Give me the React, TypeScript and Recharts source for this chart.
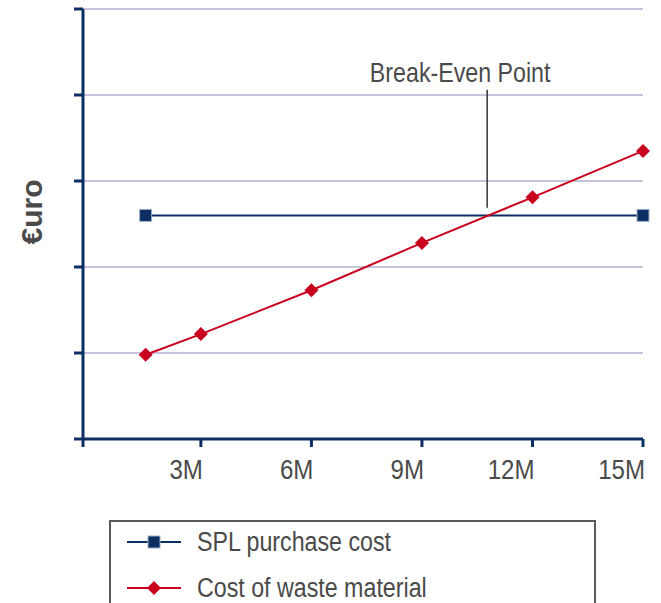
import React from 'react';
import { LineChart, Line, XAxis, YAxis, CartesianGrid, Legend, ReferenceLine } from 'recharts';

document.body.style.margin = '0';

const volumes = [1.5, 3, 6, 9, 12, 15];
const splCost = [2.6, null, null, null, null, 2.6];
const wasteCost = [0.98, 1.22, 1.73, 2.28, 2.81, 3.35];
const xTicks = [-0.2, 3, 6, 9, 12, 15];
const yTicks = [0, 1, 2, 3, 4, 5];
const breakEvenX = 10.77;

const data = volumes.map((v, i) => ({ volume: v, spl: splCost[i], waste: wasteCost[i] }));

const NAVY = '#0b2f63';
const RED = '#c8001e';
const TEXT = '#4a4a4a';
const FONT = '"Liberation Sans", Arial, sans-serif';
const SQUEEZE = 0.86;

const Diamond = (props: any) => {
  const { cx, cy } = props;
  if (cx == null || cy == null) return null;
  const r = 7;
  return <path d={`M${cx},${cy - r}L${cx + r},${cy}L${cx},${cy + r}L${cx - r},${cy}Z`} fill={RED} />;
};

const Square = (props: any) => {
  const { cx, cy } = props;
  if (cx == null || cy == null) return null;
  return <rect x={cx - 6} y={cy - 6} width={12} height={12} fill={NAVY} stroke="#9fb0c8" strokeWidth={1} />;
};

// narrow text: the reference uses a condensed face, so squeeze Liberation Sans
const XTick = (props: any) => {
  const { x, y, payload } = props;
  if (!(payload.value > 0)) return null;
  return (
    <text
      transform={`translate(${x + 2},${y + 30}) scale(${SQUEEZE},1)`}
      textAnchor="end"
      fontFamily={FONT}
      fontSize={28}
      fill={TEXT}
    >
      {`${payload.value}M`}
    </text>
  );
};

const YLabel = () => (
  <text
    transform="translate(42,212) rotate(-90)"
    textAnchor="middle"
    fontFamily={FONT}
    fontSize={30}
    fontWeight="bold"
    fill={TEXT}
  >
    €uro
  </text>
);

const LegendBox = () => (
  <div
    style={{
      border: '2px solid #5a5a5a',
      width: 487,
      height: 100,
      boxSizing: 'border-box',
      fontFamily: FONT,
      fontSize: 27,
      color: TEXT,
    }}
  >
    <div style={{ display: 'flex', alignItems: 'center', height: 24, marginTop: 8 }}>
      <svg width={86} height={22} style={{ flex: 'none' }}>
        <line x1={16} y1={11} x2={70} y2={11} stroke={NAVY} strokeWidth={2} />
        <rect x={37} y={5} width={12} height={12} fill={NAVY} stroke="#9fb0c8" />
      </svg>
      <span style={{ display: 'inline-block', transform: `scaleX(${SQUEEZE})`, transformOrigin: 'left center', whiteSpace: 'nowrap' }}>
        SPL purchase cost
      </span>
    </div>
    <div style={{ display: 'flex', alignItems: 'center', height: 24, marginTop: 22 }}>
      <svg width={86} height={22} style={{ flex: 'none' }}>
        <line x1={16} y1={11} x2={70} y2={11} stroke={RED} strokeWidth={2} />
        <path d="M43,4L50,11L43,18L36,11Z" fill={RED} />
      </svg>
      <span style={{ display: 'inline-block', transform: `scaleX(${SQUEEZE})`, transformOrigin: 'left center', whiteSpace: 'nowrap' }}>
        Cost of waste material
      </span>
    </div>
  </div>
);

const BreakEvenLabel = (props: any) => {
  const vb = props.viewBox || {};
  return (
    <text
      transform={`translate(${(vb.x ?? 0) - 27},${(vb.y ?? 0) - 8}) scale(${SQUEEZE},1)`}
      textAnchor="middle"
      fontFamily={FONT}
      fontSize={27}
      fill={TEXT}
    >
      Break-Even Point
    </text>
  );
};

export default function App() {
  return (
    <div style={{ width: 661, height: 603, position: 'relative', overflow: 'hidden', background: '#fff' }}>
      <LineChart width={661} height={603} data={data} margin={{ top: 9, right: 18, left: 0, bottom: 124 }}>
        <CartesianGrid vertical={false} stroke="#b4aed2" strokeWidth={1.5} horizontalValues={[1, 2, 3, 4, 5]} />
        <XAxis
          dataKey="volume"
          type="number"
          domain={[-0.2, 15]}
          ticks={xTicks}
          axisLine={{ stroke: NAVY, strokeWidth: 3 }}
          tickLine={{ stroke: NAVY, strokeWidth: 3 }}
          tickSize={8}
          tick={<XTick />}
          height={40}
        />
        <YAxis
          type="number"
          domain={[0, 5]}
          ticks={yTicks}
          tickFormatter={() => ''}
          axisLine={{ stroke: NAVY, strokeWidth: 3 }}
          tickLine={{ stroke: NAVY, strokeWidth: 3 }}
          tickSize={9}
          width={83}
          label={<YLabel />}
        />
        <ReferenceLine
          segment={[
            { x: breakEvenX, y: 2.69 },
            { x: breakEvenX, y: 4.06 },
          ]}
          stroke="#333"
          strokeWidth={1.5}
          label={<BreakEvenLabel />}
          ifOverflow="visible"
        />
        <Line
          dataKey="spl"
          name="SPL purchase cost"
          stroke={NAVY}
          strokeWidth={2}
          connectNulls
          dot={<Square />}
          activeDot={false}
          isAnimationActive={false}
        />
        <Line
          dataKey="waste"
          name="Cost of waste material"
          stroke={RED}
          strokeWidth={2}
          dot={<Diamond />}
          activeDot={false}
          isAnimationActive={false}
        />
        <Legend
          layout="vertical"
          align="center"
          verticalAlign="middle"
          content={<LegendBox />}
          wrapperStyle={{ position: 'absolute', left: 109, top: 520, width: 487, height: 100 }}
        />
      </LineChart>
    </div>
  );
}
